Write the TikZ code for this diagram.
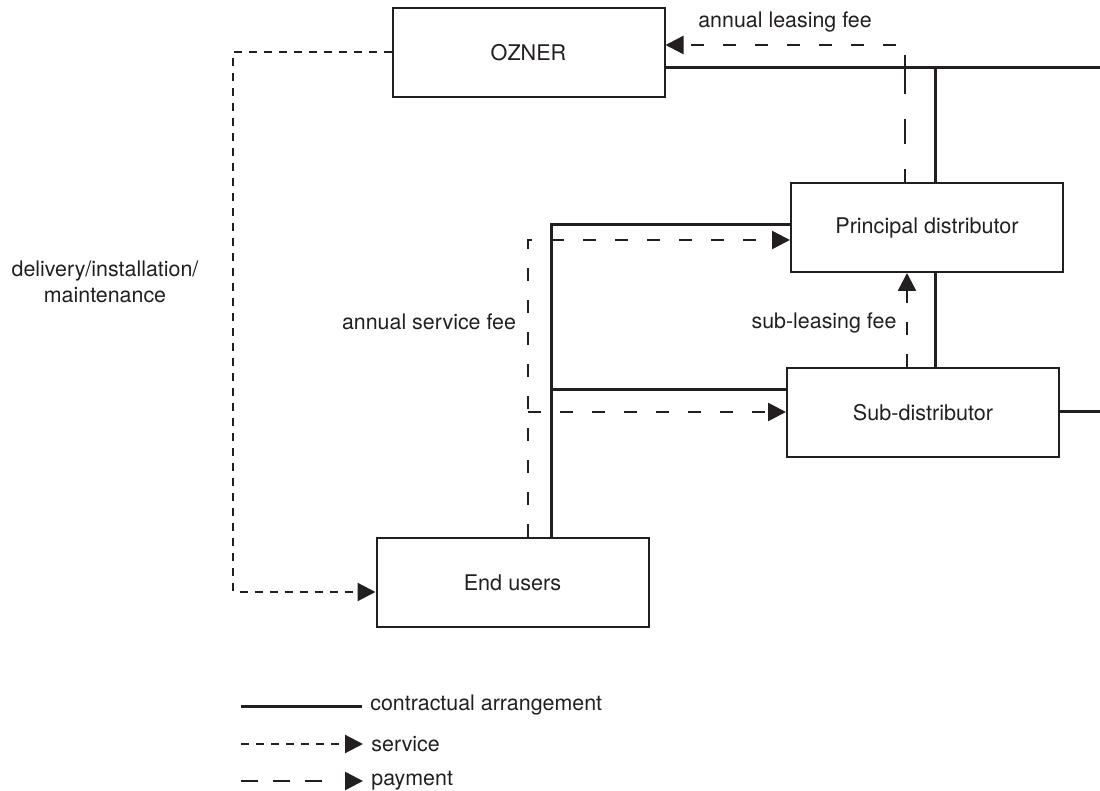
\documentclass[tikz,border=0pt]{standalone}
\usepackage{fontspec}
\setmainfont{TeX Gyre Heros}
\usetikzlibrary{arrows.meta}
\definecolor{ink}{HTML}{231F20}
\tikzset{
  box/.style={draw=ink, line width=1pt, rectangle, inner sep=0pt, minimum width=136pt, minimum height=44.5pt, text=ink, font=\fontsize{10.8}{12.8}\selectfont},
  lbl/.style={text=ink, inner sep=0pt, font=\fontsize{10.7}{13}\selectfont},
  contract/.style={draw=ink, line width=1.5pt},
  pay/.style={draw=ink, line width=1.2pt, dash pattern=on 6.5pt off 9.5pt, -{Triangle[length=9pt,width=9pt]}},
  serv/.style={draw=ink, line width=1.1pt, dash pattern=on 4pt off 3.5pt, -{Triangle[length=9pt,width=9pt]}}
}
\begin{document}
\begin{tikzpicture}[x=0.5pt,y=-0.5pt]
\useasboundingbox (0,0) rectangle (1100,791);
% boxes
\node[box] (oz) at (528.5,52.5) {OZNER};
\node[box] (pd) at (927,227.5) {Principal distributor};
\node[box] (sd) at (923,413) {Sub-distributor};
\node[box] (eu) at (512.5,582.5) {End users};
% contractual lines
\coordinate (jTop) at (935,68);
\coordinate (eR) at (1100,68);
\draw[contract] (oz.east |- jTop) -- (eR);
\draw[contract] (jTop) -- (jTop |- pd.north);
\draw[contract] (jTop |- pd.south) -- (jTop |- sd.north);
\coordinate (eR2) at (1100,412);
\draw[contract] (sd.east |- eR2) -- (eR2);
\coordinate (jEU) at (551,225);
\draw[contract] (jEU |- eu.north) -- (jEU) -- (jEU -| pd.west);
\coordinate (jSD) at (551,390);
\draw[contract] (jSD) -- (jSD -| sd.west);
% payments
\coordinate (pA) at (528,240);
\draw[pay] (pA |- eu.north) -- (pA) -- (pA -| pd.west);
\coordinate (pB) at (528,412);
\draw[pay] (pB) -- (pB -| sd.west);
\coordinate (pC) at (907,300);
\draw[pay] (pC |- sd.north) -- (pC |- pd.south);
\coordinate (pD) at (905,45);
\draw[pay, arrows=-, dash pattern=on 12.5pt off 12.5pt, dash phase=6pt] (pD |- pd.north) -- (pD |- jTop);
\draw[pay] (pD |- jTop) -- (pD) -- (pD -| oz.east);
% service
\coordinate (s1) at (233,52);
\coordinate (s2) at (233,592);
\draw[serv] (oz.west |- s1) -- (s1) -- (s2) -- (s2 -| eu.west);
% labels
\node[lbl] (tAL) at (785,22) {annual leasing fee};
\node[lbl] (tSL) at (824,323) {sub-leasing fee};
\node[lbl] (tAS) at (429,322) {annual service fee};
\node[lbl, align=center] (tDI) at (105,282) {delivery/installation/\\maintenance};
% legend
\node[lbl, anchor=west] (l1) at (370,705) {contractual arrangement};
\node[lbl, anchor=west] (l2) at (371,744) {service};
\node[lbl, anchor=west] (l3) at (371,781) {payment};
\coordinate (c1) at (241,707);
\coordinate (c2) at (241,744);
\coordinate (c3) at (241,781);
\draw[contract] (c1) -- ([xshift=-4pt]l1.west |- c1);
\draw[serv] (c2) -- ([xshift=-4pt]l2.west |- c2);
\draw[pay, dash pattern=on 8.5pt off 7.5pt on 8.5pt off 7.5pt on 8.5pt off 30pt] (c3) -- ([xshift=-4pt]l3.west |- c3);
\end{tikzpicture}
\end{document}
